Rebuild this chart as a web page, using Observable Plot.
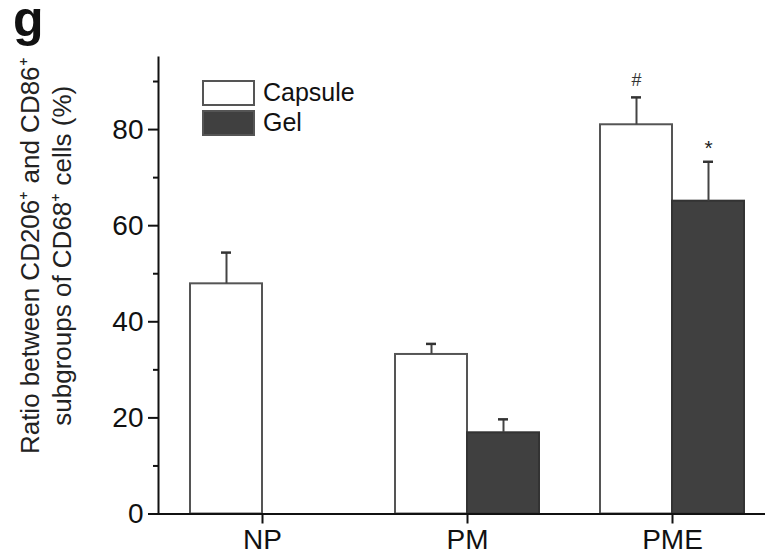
<!DOCTYPE html>
<html>
<head>
<meta charset="utf-8">
<script src="https://cdn.jsdelivr.net/npm/d3@7"></script>
<script src="https://cdn.jsdelivr.net/npm/@observablehq/plot@0.6"></script>
<style>
  html, body { margin: 0; padding: 0; background: white; }
  #wrap { position: relative; width: 765px; height: 555px; font-family: "Liberation Sans", Arial, sans-serif; }
  #panel { position: absolute; left: 13px; top: 4px; font-size: 50px; line-height: 30px; font-weight: bold; color: #111; }
  .leg { position: absolute; display: flex; align-items: center; font-size: 25px; color: #111; }
  .sw { width: 49px; height: 22px; border: 2px solid #555; margin-right: 8px; }
  #wrap svg g[aria-label="y-axis tick label"] { font-size: 28px; }
  #wrap svg g[aria-label="x-axis tick label"] { font-size: 28px; }
</style>
</head>
<body>
<div id="wrap"></div>
<script>
const groups = ["NP", "PM", "PME"];
const series = ["Capsule", "Gel"];
const capsuleMean = [47.9, 33.2, 81.0];
const capsuleUpper = [54.4, 35.4, 86.7];
const capsuleSig = ["", "", "#"];
const gelMean = [null, 16.9, 65.1];
const gelUpper = [null, 19.7, 73.3];
const gelSig = ["", "", "*"];
const yTicks = [0, 20, 40, 60, 80];
const yMinorTicks = [10, 30, 50, 70, 90];
const yLabel1 = "Ratio between CD206\u207A and CD86\u207A";
const yLabel2 = "subgroups of CD68\u207A cells (%)";
const seriesFill = ["white", "#404040"];

const cap = groups.map((g, i) => ({group: g, value: capsuleMean[i], upper: capsuleUpper[i], sig: capsuleSig[i]}));
const gel = groups.map((g, i) => ({group: g, value: gelMean[i], upper: gelUpper[i], sig: gelSig[i]})).filter(d => d.value != null);

const font = "Liberation Sans, Arial, sans-serif";
const chart = Plot.plot({
  width: 765,
  height: 555,
  marginLeft: 158,
  marginRight: 0,
  marginTop: 57,
  marginBottom: 41.5,
  style: {fontFamily: font, fontSize: "26px", background: "white", color: "#111", overflow: "visible"},
  x: {domain: groups, paddingInner: 0.3, paddingOuter: 0.124, align: 0.6, label: null},
  y: {domain: [0, 95], label: null},
  marks: [
    Plot.barY(cap, {x: "group", y: "value", fill: seriesFill[0], stroke: "#555", strokeWidth: 2, insetRight: 72}),
    Plot.barY(gel, {x: "group", y: "value", fill: seriesFill[1], stroke: "#333", strokeWidth: 2, insetLeft: 72}),
    Plot.ruleX(cap, {x: "group", y1: "value", y2: "upper", dx: -36, stroke: "#444", strokeWidth: 2}),
    Plot.ruleX(gel, {x: "group", y1: "value", y2: "upper", dx: 36, stroke: "#444", strokeWidth: 2}),
    Plot.tickY(cap, {x: "group", y: "upper", dx: -36, insetLeft: 67, insetRight: 67, stroke: "#333", strokeWidth: 2.5}),
    Plot.tickY(gel, {x: "group", y: "upper", dx: 36, insetLeft: 67, insetRight: 67, stroke: "#333", strokeWidth: 2.5}),
    Plot.text(cap.filter(d => d.sig), {x: "group", y: "upper", text: "sig", dx: -36, dy: -17, fontSize: 18, fill: "#333"}),
    Plot.text(gel.filter(d => d.sig), {x: "group", y: "upper", text: "sig", dx: 36, dy: -14, fontSize: 21, fill: "#222"}),
    Plot.axisY({ticks: yTicks, tickSize: 10, tickPadding: 5, label: null, strokeWidth: 2}),
    Plot.axisY({ticks: yMinorTicks, tickSize: 5, tickFormat: () => "", label: null, strokeWidth: 2}),
    Plot.axisX({tickSize: 10, tickPadding: 5, label: null, strokeWidth: 2}),
    Plot.ruleY([0], {stroke: "#111", strokeWidth: 2}),
    Plot.frame({anchor: "left", stroke: "#111", strokeWidth: 2}),
    Plot.text([yLabel1], {frameAnchor: "left", textAnchor: "middle", rotate: -90, dx: -128, dy: -30, fontSize: 26, fill: "#222"}),
    Plot.text([yLabel2], {frameAnchor: "left", textAnchor: "middle", rotate: -90, dx: -96, dy: -30, fontSize: 26, fill: "#222"})
  ]
});

const wrap = document.getElementById("wrap");
wrap.appendChild(chart);

const g = document.createElement("div");
g.id = "panel";
g.textContent = "g";
wrap.appendChild(g);

series.forEach((s, i) => {
  const row = document.createElement("div");
  row.className = "leg";
  row.style.left = "202px";
  row.style.top = (78 + i * 30) + "px";
  const sw = document.createElement("div");
  sw.className = "sw";
  sw.style.background = seriesFill[i];
  const t = document.createElement("span");
  t.textContent = s;
  row.appendChild(sw);
  row.appendChild(t);
  wrap.appendChild(row);
});
</script>
</body>
</html>
